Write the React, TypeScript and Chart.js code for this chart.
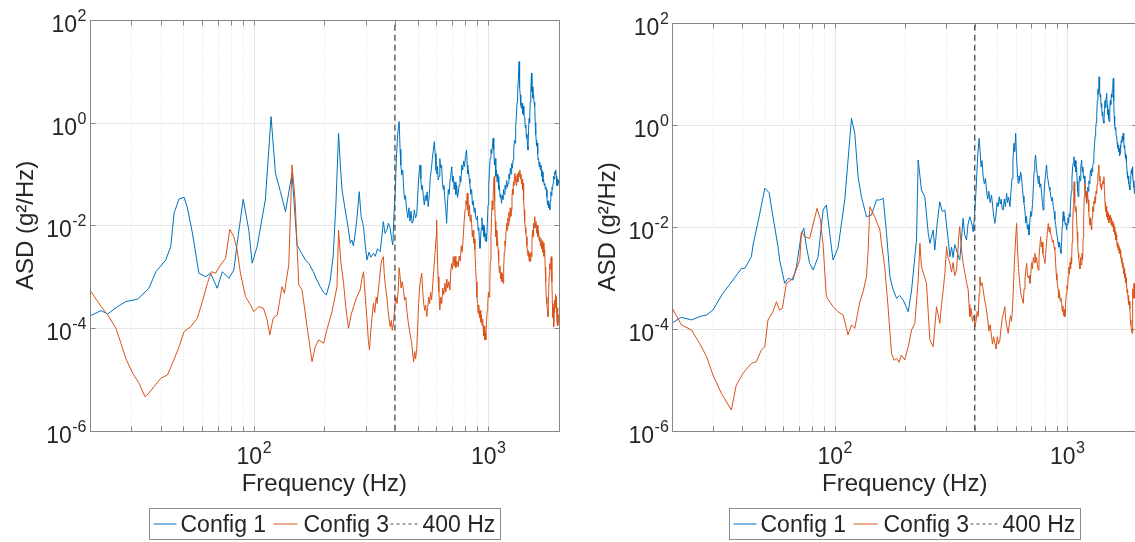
import React, { useEffect, useRef } from 'react';
import Chart from 'chart.js/auto';

// ---------- data: [frequency (Hz), ASD (g^2/Hz)] ----------
const leftConfig1: [number, number][] = [
  [20, 1.72e-4], [22.3, 2.18e-4], [23.8, 1.88e-4], [26.2, 2.61e-4], [28.4, 3.27e-4], [31.9, 3.64e-4], [35.7, 5.96e-4], [38.2, 1.25e-3], [42.1, 2.12e-3], [44.2, 3.85e-3],
  [45.7, 1.74e-2], [48, 3.27e-2], [50.4, 3.52e-2], [52.1, 2.18e-2], [54.7, 7.1e-3], [58.3, 1.17e-3], [62.3, 1.0e-3], [65.4, 1.17e-3], [69.8, 5.96e-4], [73.4, 1.25e-3],
  [78.3, 9.3e-4], [82.2, 1.35e-3], [85.3, 5.2e-3], [90.1, 3.22e-2], [95.2, 8.1e-3], [98.4, 1.83e-3], [103.3, 3.85e-3], [112, 3.13e-2], [118.5, 1.31], [123.7, 0.103],
  [129.9, 4.53e-2], [136.5, 1.85e-2], [145.6, 0.103], [153, 4.15e-3], [159, 3e-3], [166, 2.12e-3], [172, 1.8e-3], [179.5, 1.25e-3], [185, 9e-4], [192, 6.4e-4],
  [198, 5e-4], [204, 4.41e-4], [208, 6e-4], [212, 8.6e-4], [218, 2.45e-3], [224, 2.5e-2], [230, 0.622], [234, 0.15], [238, 4.89e-2], [245.5, 2.0e-2],
  [253.6, 8.1e-3], [258, 4.5e-3], [262, 5.2e-3], [266, 4e-3], [271, 7.1e-3], [276, 1.5e-2], [281.8, 4.53e-2], [287, 1.5e-2], [294, 9.4e-3], [299, 4e-3],
  [304, 2.12e-3], [310, 3e-3], [316, 2.4e-3], [324, 2.86e-3], [330, 2.5e-3], [337, 3.5e-3], [346, 3.08e-3], [352, 6e-3], [357, 1.18e-2], [363, 7e-3],
  [369.6, 8.1e-3], [375, 1.1e-2], [382, 8.8e-3], [387, 5.5e-3], [392, 4.15e-3], [396, 1.5e-2], [401, 4.22e-2], [406, 0.2], [411, 0.6], [417, 1.05],
  [421, 0.3], [424, 0.15], [428, 9.6e-2], [432, 0.12], [436, 5e-2], [440, 3.2e-2], [444, 3.8e-2], [449, 2.0e-2], [454, 1.4e-2], [459, 2.2e-2],
  [464, 1.2e-2], [469, 1.9e-2], [474, 1.1e-2], [479.6, 1.27e-2], [484, 2e-2], [490, 1.4e-2], [495.6, 1.6e-2], [500, 3.5e-2], [504, 0.07], [508, 0.11],
  [512, 0.15], [516, 0.08], [520, 5e-2], [524, 6e-2], [529, 3.62e-2], [534, 2.5e-2], [539, 3.8e-2], [544, 3e-2], [549, 4.5e-2], [555, 2.31e-2],
  [561, 4e-2], [567, 0.09], [573, 0.13], [578, 0.2], [583, 0.28], [589, 0.427], [594, 0.25], [599, 0.12], [604, 0.1], [608, 0.14],
  [612, 7.66e-2], [617, 0.09], [622, 0.2], [627, 0.13], [633, 0.15], [638, 0.07], [643, 5e-2], [648, 6e-2], [654, 3e-2], [659, 2.2e-2],
  [665, 1.1e-2], [670, 2.5e-2], [676, 5e-2], [682, 4e-2], [688, 0.08], [693, 0.1], [699, 0.139], [705, 0.07], [711, 0.09], [716, 5e-2],
  [722, 7e-2], [728, 4e-2], [734, 6e-2], [740, 3.5e-2], [745, 4.22e-2], [752, 6e-2], [758, 0.09], [765, 0.07], [772, 0.15], [779, 0.12],
  [786, 0.18], [793, 0.14], [800, 0.22], [809, 0.294], [814, 0.15], [819, 0.1], [824, 0.12], [830, 8e-2], [836, 6.6e-2], [843, 4e-2],
  [850, 5e-2], [857, 2.5e-2], [864, 3e-2], [871, 1.8e-2], [878, 2.2e-2], [886, 1.4e-2], [893, 1.27e-2], [900, 1.5e-2], [906, 8e-3], [912, 9e-3],
  [918, 5e-3], [923, 3.58e-3], [929, 6e-3], [935, 9e-3], [941, 1.4e-2], [947, 8e-3], [953, 1.02e-2], [959, 6e-3], [965, 9e-3], [971, 5e-3],
  [978, 7e-3], [985, 4.82e-3], [992, 1.1e-2], [999, 2.5e-2], [1006, 6e-2], [1013, 0.12], [1020, 0.2], [1028, 0.3], [1036, 0.25], [1043, 0.35],
  [1050, 0.497], [1057, 0.3], [1064, 0.15], [1071, 0.2], [1078, 0.09], [1085, 0.12], [1092, 0.07], [1098, 0.1], [1103, 8.9e-2], [1110, 5e-2],
  [1117, 6e-2], [1124, 3.5e-2], [1132, 4e-2], [1140, 2.69e-2], [1148, 3.8e-2], [1156, 3.2e-2], [1164, 5e-2], [1172, 4e-2], [1180, 6e-2], [1190, 5e-2],
  [1200, 7.5e-2], [1208, 5.5e-2], [1217, 6.6e-2], [1226, 0.1], [1235, 0.08], [1244, 0.13], [1252, 0.1], [1260, 0.16], [1268, 0.13], [1277, 0.188],
  [1286, 0.3], [1294, 0.45], [1302, 0.4], [1310, 0.8], [1320, 1.31], [1328, 2.5], [1336, 4], [1345, 7], [1355, 15.4], [1362, 5],
  [1370, 3.5], [1378, 2.2], [1387, 1.91], [1395, 2.4], [1403, 1.5], [1411, 2.1], [1420, 1.4], [1432, 1.31], [1440, 0.8], [1448, 0.9],
  [1456, 0.5], [1464, 0.6], [1472, 0.35], [1479, 0.294], [1487, 0.7], [1495, 1.2], [1503, 1.0], [1511, 2.5], [1520, 4], [1530, 9.2],
  [1537, 4], [1545, 5], [1553, 3], [1562, 3.5], [1570, 2.5], [1580, 2.05], [1588, 1.0], [1596, 0.6], [1604, 0.45], [1612, 0.35],
  [1620, 0.4], [1628, 0.25], [1633, 0.188], [1641, 0.2], [1650, 0.14], [1660, 0.17], [1670, 0.12], [1680, 0.15], [1687, 0.12], [1696, 0.09],
  [1705, 0.11], [1714, 0.07], [1724, 0.08], [1735, 0.06], [1745, 0.065], [1755, 0.05], [1765, 0.055], [1773, 4.89e-2], [1782, 3.5e-2], [1792, 2.5e-2],
  [1802, 3e-2], [1812, 2.2e-2], [1822, 2.6e-2], [1832, 2.0e-2], [1842, 3e-2], [1852, 4.5e-2], [1862, 3.8e-2], [1872, 5.5e-2], [1882, 5e-2], [1892, 6.6e-2],
  [1902, 0.09], [1912, 0.08], [1922, 0.11], [1932, 0.1], [1942, 0.12], [1952, 0.09], [1962, 0.06], [1972, 0.08], [1982, 0.06], [1992, 0.075], [2000, 6.6e-2],
];

const leftConfig3: [number, number][] = [
  [20, 5.5e-4], [22.3, 2.61e-4], [23.8, 1.8e-4], [25.8, 9.9e-5], [27.1, 5.06e-5], [28.4, 2.58e-5], [30.4, 1.32e-5], [32.4, 8.4e-6], [34.3, 4.6e-6], [35.7, 5.4e-6],
  [37.5, 7.2e-6], [40.1, 1.05e-5], [42.8, 1.22e-5], [45, 2.06e-5], [48, 4.35e-5], [50.4, 8.5e-5], [53.8, 1.06e-4], [57.4, 1.55e-4], [60.3, 3.27e-4], [63.4, 7.45e-4],
  [65.9, 1.25e-3], [68.7, 1.17e-3], [72.1, 1.69e-3], [75.8, 2.29e-3], [79, 8.4e-3], [82.2, 6.0e-3], [84.9, 3.32e-3], [87.7, 1.17e-3], [92.2, 4.08e-4], [96.8, 2.82e-4],
  [100, 2.08e-4], [105, 2.61e-4], [110, 2.43e-4], [114, 1.44e-4], [117, 7.35e-5], [121, 1.55e-4], [126, 1.8e-4], [132, 6.4e-4], [135, 4.77e-4], [141, 1.69e-3],
  [145.6, 0.150], [150, 3.13e-2], [155.6, 6.9e-4], [160.7, 5.5e-4], [168.8, 1.06e-4], [177.2, 2.22e-5], [183, 4.35e-5], [189, 5.86e-5], [198.7, 5.06e-5], [205, 9.2e-5],
  [215.6, 2.08e-4], [226.5, 6.4e-4], [230, 8.1e-3], [235, 2e-3], [241.6, 7.45e-4], [247, 2.5e-4], [253.6, 9.9e-5], [260, 1.8e-4], [266.6, 2.61e-4], [275, 4e-4],
  [284.4, 5.5e-4], [289, 9e-4], [294, 1.25e-3], [299, 4e-4], [304, 1.5e-4], [308, 6e-5], [311.6, 3.75e-5], [315, 8e-5], [319, 1.5e-4], [324, 3.04e-4],
  [328, 2e-4], [333, 4e-4], [336, 3e-4], [340, 5.5e-4], [344, 9e-4], [348, 1.6e-3], [351.8, 2.12e-3], [357, 2.45e-3], [360, 1.2e-3], [364, 7e-4],
  [369.6, 4.08e-4], [373, 2.5e-4], [377, 1.6e-4], [382, 1.06e-4], [386, 1.4e-4], [390, 9e-5], [394.5, 1.24e-4], [399, 2.5e-4], [404, 4e-4], [409, 3e-4],
  [414, 6.4e-4], [417, 1.5e-3], [421, 1.0e-3], [425, 6e-4], [430, 8e-4], [435, 5.5e-4], [440, 3.5e-4], [445, 4e-4], [449.6, 2.25e-4], [455, 1.4e-4],
  [460, 1.0e-4], [466, 7e-5], [472, 5.06e-5], [477, 3e-5], [481, 2.2e-5], [486, 3.5e-5], [490, 2.5e-5], [495.6, 3.75e-5], [500, 1e-4], [505, 3e-4],
  [510, 6e-4], [515, 9e-4], [521, 1.17e-3], [526, 5e-4], [531, 3e-4], [536, 2.2e-4], [541, 2.8e-4], [547, 1.67e-4], [552, 2.5e-4], [558, 4e-4],
  [563, 3e-4], [568, 5e-4], [574, 3.52e-4], [580, 7e-4], [587, 1.5e-3], [594, 3e-3], [600, 6e-3], [603, 1.27e-2], [607, 3e-3], [611, 1e-3],
  [616, 5e-4], [622, 2.25e-4], [628, 4e-4], [634, 3e-4], [640, 6e-4], [647, 4.5e-4], [654, 7.45e-4], [660, 5e-4], [666, 9e-4], [672, 6e-4],
  [680, 8e-4], [687, 5.5e-4], [692, 1.2e-3], [698, 1.8e-3], [704, 1.4e-3], [710, 2.45e-3], [716, 1.6e-3], [722, 2.5e-3], [728, 1.5e-3], [736, 2e-3],
  [745, 1.57e-3], [752, 2.5e-3], [760, 2e-3], [768, 4e-3], [775, 3e-3], [783, 6e-3], [790, 1.2e-2], [797, 2e-2], [804, 3e-2], [809, 2.5e-2],
  [814, 4.22e-2], [820, 2e-2], [826, 1.5e-2], [832, 2.5e-2], [838, 1.2e-2], [844, 1.6e-2], [850, 1.1e-2], [856, 6e-3], [862, 8e-3], [868, 4.5e-3],
  [873, 5.5e-3], [878, 3.32e-3], [884, 1.5e-3], [890, 8e-4], [896, 4e-4], [901, 3e-4], [906, 1.94e-4], [912, 2.8e-4], [918, 1.6e-4], [924, 2.2e-4],
  [930, 1.3e-4], [936, 1.8e-4], [942, 1.1e-4], [947, 1.5e-4], [952, 1.06e-4], [957, 7e-5], [962, 1.1e-4], [967, 6e-5], [972, 8e-5], [977, 5.86e-5],
  [983, 1.2e-4], [990, 2.2e-4], [996, 3e-4], [1003, 5e-4], [1009, 4e-4], [1016, 7.45e-4], [1022, 2e-3], [1028, 6e-3], [1034, 1.5e-2], [1040, 3e-2],
  [1046, 2e-2], [1053, 5e-2], [1061, 8.9e-2], [1066, 3e-2], [1072, 1.2e-2], [1078, 6e-3], [1084, 8e-3], [1090, 4e-3], [1096, 5.5e-3], [1103, 3.32e-3],
  [1109, 2e-3], [1116, 1.2e-3], [1123, 1.6e-3], [1130, 9e-4], [1137, 1.2e-3], [1144, 8e-4], [1151, 1.1e-3], [1159, 7.45e-4], [1165, 1.5e-3], [1172, 3e-3],
  [1179, 5e-3], [1186, 4e-3], [1192, 8e-3], [1198, 1.1e-2], [1205, 8e-3], [1212, 1.4e-2], [1219, 1e-2], [1226, 1.8e-2], [1234, 1.2e-2], [1242, 2.2e-2],
  [1250, 1.5e-2], [1258, 2e-2], [1264, 3.5e-2], [1270, 5e-2], [1276, 4e-2], [1282, 7e-2], [1288, 6e-2], [1294, 9e-2], [1300, 0.103], [1306, 0.07],
  [1312, 0.09], [1318, 0.06], [1325, 0.08], [1332, 0.1], [1340, 0.07], [1348, 0.11], [1356, 0.09], [1365, 0.12], [1372, 0.08], [1380, 0.1],
  [1388, 0.065], [1396, 0.08], [1403, 0.05], [1410, 6.6e-2], [1417, 3e-2], [1424, 2e-2], [1432, 1.2e-2], [1440, 9e-3], [1448, 7e-3], [1456, 6e-3],
  [1464, 4e-3], [1472, 3e-3], [1480, 2.5e-3], [1488, 3.2e-3], [1496, 2e-3], [1504, 2.8e-3], [1512, 2e-3], [1521, 3e-3], [1530, 2.45e-3], [1538, 5e-3],
  [1546, 8e-3], [1554, 6e-3], [1562, 1.1e-2], [1571, 9e-3], [1580, 1.48e-2], [1590, 9e-3], [1600, 1.2e-2], [1610, 7e-3], [1620, 1e-2], [1630, 6e-3],
  [1640, 8e-3], [1650, 5e-3], [1660, 6e-3], [1670, 4e-3], [1680, 5.5e-3], [1690, 3.5e-3], [1700, 5e-3], [1710, 3e-3], [1720, 4.5e-3], [1730, 2.5e-3],
  [1743, 3.32e-3], [1752, 1.5e-3], [1760, 8e-4], [1770, 4e-4], [1780, 3e-4], [1790, 2.2e-4], [1800, 1.67e-4], [1810, 4e-4], [1820, 1e-3], [1830, 1.8e-3],
  [1840, 1.4e-3], [1850, 2.2e-3], [1862, 2.45e-3], [1870, 8e-4], [1880, 3e-4], [1890, 1.6e-4], [1897, 2.5e-4], [1904, 1.06e-4], [1912, 2e-4], [1920, 3.5e-4],
  [1930, 2.5e-4], [1940, 4.5e-4], [1948, 3e-4], [1954, 4.08e-4], [1962, 2e-4], [1970, 1.2e-4], [1978, 2.5e-4], [1986, 1.1e-4], [1994, 1.8e-4], [2000, 1.24e-4],
];

const rightConfig1: [number, number][] = [
  [20, 1.31e-4], [21.9, 1.68e-4], [24.2, 1.49e-4], [26.7, 1.78e-4], [28.1, 1.86e-4], [29.9, 2.33e-4], [33, 4.97e-4], [36.5, 9.06e-4], [39.7, 1.53e-3], [41, 1.53e-3],
  [43.8, 2.6e-3], [44.5, 4.4e-3], [47.6, 1.85e-2], [50, 5.7e-2], [52.2, 4.68e-2], [54.2, 1.58e-2], [57, 4.07e-3], [57.9, 2.23e-3], [60.9, 7.8e-4], [63, 9.8e-4],
  [66.1, 9.06e-4], [68.4, 1.65e-3], [71.9, 7.46e-3], [73.6, 9.4e-3], [75.5, 4.07e-3], [78, 1.92e-3], [80.7, 1.42e-3], [84.8, 2.6e-3], [89.1, 2.14e-2], [92, 2.69e-2],
  [95.1, 7.46e-3], [98.3, 2.23e-3], [103.3, 3.85e-3], [110.4, 3.37e-2], [118, 1.35], [121.9, 0.685], [126, 9.6e-2], [130.2, 3.9e-2], [136.9, 1.58e-2], [143.8, 1.7e-2],
  [151.2, 3.37e-2], [156.3, 3.37e-2], [161.6, 3.63e-2], [167, 7.46e-3], [172.7, 1.05e-3], [178, 6e-4], [184.5, 3.96e-4], [190, 4.5e-4], [196.9, 3.66e-4], [202, 2.8e-4],
  [207, 2.16e-4], [214, 5.77e-4], [224.7, 5.52e-3], [228.5, 0.205], [236, 5.28e-2], [244, 3.9e-2], [252.4, 7.46e-3], [256.6, 4.75e-3], [265, 8.67e-3], [269.3, 3.51e-3],
  [276, 1.2e-2], [283, 3.11e-2], [290, 2e-2], [297.6, 2.14e-2], [307.6, 5.52e-3], [312.8, 2.6e-3], [318, 4e-3], [323, 2.5e-3], [328, 4.5e-3], [334, 3.51e-3],
  [339, 2.8e-3], [345, 2.23e-3], [350, 5e-3], [356.6, 1.47e-2], [362, 7e-3], [368.8, 5.52e-3], [374, 1.1e-2], [381, 1.58e-2], [388, 1.2e-2], [394, 8.0e-3],
  [399, 1.6e-2], [404.6, 4.55e-2], [408, 0.1], [412, 0.25], [418, 0.546], [422, 0.3], [426, 0.15], [430, 0.2], [435, 9.6e-2], [440, 0.07],
  [445, 0.09], [449.6, 5.28e-2], [455, 3.5e-2], [460, 5e-2], [466, 3e-2], [472.6, 4.22e-2], [478, 2.5e-2], [483, 1.6e-2], [488.5, 1.17e-2], [494, 1.8e-2],
  [499, 3e-2], [504, 2.5e-2], [510, 3.9e-2], [515, 2.8e-2], [520, 3.5e-2], [525, 2.2e-2], [530.6, 2.14e-2], [536, 3.5e-2], [542, 2.5e-2], [548.6, 4.55e-2],
  [554, 3e-2], [560, 3.8e-2], [567, 2.48e-2], [573, 5e-2], [579, 0.09], [584, 0.2], [590, 0.436], [595, 0.3], [600, 0.685], [605, 0.25],
  [610, 0.12], [615.5, 7.15e-2], [620, 0.1], [625, 0.08], [630, 0.12], [636, 9.6e-2], [641, 6e-2], [646, 4e-2], [651, 3e-2], [657.6, 2.14e-2],
  [663, 1.2e-2], [668, 1.6e-2], [674, 9e-3], [679, 1.1e-2], [684, 6.9e-3], [690, 1.2e-2], [696, 2e-2], [702, 1.6e-2], [709.6, 2.9e-2], [715, 6e-2],
  [720, 0.12], [725, 0.18], [731, 0.257], [737, 0.15], [743, 0.11], [750, 7.15e-2], [756, 0.1], [762, 0.06], [769, 0.07], [776, 4.55e-2],
  [782, 3e-2], [788, 2.14e-2], [794, 4e-2], [800, 7e-2], [807, 0.11], [815, 0.164], [821, 0.1], [828, 0.08], [835, 0.06], [843, 5.28e-2],
  [850, 4e-2], [857, 3.2e-2], [864, 3.8e-2], [871, 2.48e-2], [878, 2e-2], [885, 1.4e-2], [892, 1.1e-2], [899, 8e-3], [906, 6.4e-3], [913, 5e-3],
  [920, 4e-3], [927, 5e-3], [934, 3.5e-3], [940, 3.03e-3], [946, 5e-3], [951, 1e-2], [956, 1.4e-2], [961, 1.98e-2], [967, 1.3e-2], [973, 1.6e-2],
  [980, 1.1e-2], [987, 1.2e-2], [994, 8.67e-3], [1000, 1.1e-2], [1007, 1.5e-2], [1014, 1.2e-2], [1020, 1.8e-2], [1027, 1.58e-2], [1034, 3e-2], [1041, 5e-2],
  [1048, 0.09], [1055, 0.15], [1062, 0.18], [1069, 0.238], [1076, 0.15], [1083, 0.2], [1090, 0.12], [1097, 0.151], [1103, 0.08], [1109, 0.05],
  [1115, 3.9e-2], [1122, 6e-2], [1129, 0.1], [1136, 0.08], [1144, 0.15], [1153, 0.205], [1160, 0.12], [1168, 0.15], [1175, 0.09], [1183, 0.1],
  [1191, 7.15e-2], [1198, 5e-2], [1205, 4e-2], [1211, 2.9e-2], [1218, 4e-2], [1225, 6e-2], [1232, 5e-2], [1239, 8e-2], [1246, 7e-2], [1253, 9.6e-2],
  [1260, 0.13], [1267, 0.1], [1274, 0.14], [1281, 0.12], [1287, 0.16], [1294, 0.177], [1302, 0.25], [1310, 0.4], [1318, 0.6], [1325, 0.8],
  [1332, 1.1], [1339, 1.45], [1347, 3], [1355, 5], [1363, 4], [1371, 8.8], [1378, 5], [1385, 3.5], [1392, 4], [1399, 2.2],
  [1406, 2.65], [1413, 1.5], [1420, 1.8], [1428, 1.2], [1438, 1.08], [1446, 2], [1454, 3], [1462, 2.2], [1470, 3.5], [1478, 4.17],
  [1485, 2.5], [1492, 1.6], [1500, 2], [1508, 1.3], [1516, 1.16], [1524, 2], [1532, 3], [1540, 2.5], [1548, 4], [1556, 3.5],
  [1564, 5], [1571, 6], [1578, 8.2], [1585, 3], [1592, 1.5], [1600, 1], [1608, 0.8], [1616, 0.9], [1624, 0.6], [1632, 0.587],
  [1640, 0.45], [1648, 0.35], [1656, 0.4], [1664, 0.3], [1672, 0.35], [1680, 0.25], [1687, 0.277], [1694, 0.4], [1701, 0.35], [1708, 0.5],
  [1716, 0.45], [1724, 0.6], [1733, 0.5], [1742, 0.685], [1750, 0.5], [1758, 0.35], [1766, 0.4], [1774, 0.28], [1782, 0.22], [1790, 0.25],
  [1796, 0.2], [1802, 0.177], [1810, 0.12], [1818, 0.09], [1826, 0.1], [1834, 0.07], [1842, 0.08], [1850, 0.06], [1856, 0.065], [1862, 5.28e-2],
  [1870, 0.08], [1878, 0.1], [1886, 0.13], [1894, 0.11], [1901, 0.14], [1908, 0.151], [1915, 0.1], [1922, 0.08], [1929, 0.06], [1937, 0.07],
  [1946, 4.55e-2], [1955, 0.06], [1964, 0.08], [1973, 0.07], [1982, 0.1], [1991, 0.085], [2000, 0.1],
];

const rightConfig3: [number, number][] = [
  [20, 2.52e-4], [21.9, 1.19e-4], [24.2, 9.46e-5], [26.2, 5.19e-5], [28.1, 2.83e-5], [29.9, 1.24e-5], [32.5, 5.42e-6], [35.9, 2.55e-6], [37.7, 7.87e-6], [40.3, 1.34e-5],
  [43.8, 2.1e-5], [46, 2.26e-5], [48.3, 3.83e-5], [50, 4.45e-5], [51.6, 1.49e-4], [54.2, 2.16e-4], [56.1, 3.4e-4], [57.9, 2.33e-4], [59.5, 2.52e-4], [61.9, 7.8e-4],
  [65.1, 9.06e-4], [67.3, 1.22e-3], [70.7, 2.23e-3], [71.9, 8.0e-3], [74.3, 6.4e-3], [78, 5.96e-3], [83.9, 2.31e-2], [86.8, 1.36e-2], [89.1, 4.4e-3], [92, 4.26e-4],
  [98.3, 2.71e-4], [103.3, 2.16e-4], [108.6, 1.86e-4], [112.3, 1.02e-4], [114, 7.55e-5], [118, 1.19e-4], [121.9, 1.02e-4], [128.2, 3.4e-4], [132.4, 5.33e-4], [136.9, 1.05e-3],
  [139, 3.03e-3], [141.5, 2.48e-2], [148.6, 1.58e-2], [156.3, 8.67e-3], [158.8, 4.75e-3], [164, 1.65e-3], [169.5, 2.71e-4], [175.4, 3.3e-5], [180, 2.4e-5], [184.5, 2.63e-5],
  [189, 2.2e-5], [193.6, 3.05e-5], [200, 2.44e-5], [207, 4.45e-5], [214, 9.46e-5], [221, 1.28e-4], [228.5, 9.06e-4], [232.4, 4.75e-3], [236, 1.65e-3], [248, 7.8e-4],
  [256.6, 6.0e-5], [265, 4.45e-5], [274, 2.71e-4], [283, 1.28e-4], [288, 3e-4], [293, 6e-4], [297.6, 1.22e-3], [302.6, 4.07e-3], [307, 2.5e-3], [312.8, 1.92e-3],
  [318, 1.3e-3], [323, 2e-3], [328, 1.1e-3], [334, 1.42e-3], [338, 3e-3], [341, 6e-3], [345, 1.01e-2], [350, 4e-3], [356, 2e-3], [363, 1.22e-3],
  [369, 8e-4], [375, 5.77e-4], [378, 3e-4], [381, 1.73e-4], [386, 2.5e-4], [391, 1.4e-4], [396, 1.8e-4], [401, 1.1e-4], [406, 1.5e-4], [410, 2.2e-4],
  [414, 1.73e-4], [418, 5e-4], [421, 1.05e-3], [425, 7e-4], [430, 8e-4], [435, 5.77e-4], [440, 4e-4], [445, 3e-4], [449.6, 2.33e-4], [455, 1.5e-4],
  [460, 9e-5], [466, 1.2e-4], [472.6, 6.98e-5], [477, 5e-5], [482, 7e-5], [488.5, 5.19e-5], [494, 4e-5], [500, 7e-5], [506, 5e-5], [513, 6e-5],
  [519, 1e-4], [525, 1.6e-4], [532, 2e-4], [538.6, 2.71e-4], [544, 1.5e-4], [550, 1.1e-4], [557, 8.15e-5], [563, 1.2e-4], [570, 1.8e-4], [576, 1.4e-4],
  [582, 2.71e-4], [588, 8e-4], [594, 2.5e-3], [600, 6e-3], [606, 1.17e-2], [611, 4e-3], [617, 1.5e-3], [625, 7.8e-4], [631, 5e-4], [638, 4e-4],
  [647, 3.16e-4], [652, 6e-4], [658, 9e-4], [663, 1.4e-3], [669, 1.92e-3], [674, 1.2e-3], [680, 1e-3], [686, 1.1e-3], [691, 7.8e-4], [697, 1.2e-3],
  [703, 2e-3], [709, 1.5e-3], [715, 2.5e-3], [720, 2e-3], [726, 3.03e-3], [732, 2e-3], [738, 2.5e-3], [744, 1.8e-3], [750, 1.42e-3], [756, 2.5e-3],
  [762, 4e-3], [768, 6.4e-3], [774, 4e-3], [780, 5e-3], [786, 3e-3], [793, 2.5e-3], [802, 1.92e-3], [808, 3e-3], [815, 5e-3], [822, 8e-3],
  [829, 1.17e-2], [835, 8e-3], [842, 1e-2], [849, 7e-3], [857, 6.4e-3], [864, 5e-3], [871, 5.5e-3], [878, 4e-3], [885, 3.51e-3], [891, 2e-3],
  [897, 1.2e-3], [903, 9e-4], [909, 7e-4], [915, 5.77e-4], [921, 4e-4], [927, 5e-4], [933, 3.5e-4], [939, 4e-4], [946, 3.16e-4], [952, 2.2e-4],
  [958, 2.8e-4], [965, 1.8e-4], [971, 2.4e-4], [978, 1.73e-4], [984, 3e-4], [991, 5e-4], [997, 7e-4], [1003, 6e-4], [1010, 1.05e-3], [1016, 1.6e-3],
  [1022, 1.2e-3], [1028, 2e-3], [1034, 1.5e-3], [1040, 2.5e-3], [1044, 1.92e-3], [1050, 5e-3], [1056, 1.2e-2], [1062, 2.5e-2], [1067, 5e-2], [1072, 7.7e-2],
  [1077, 3e-2], [1083, 2e-2], [1090, 2.5e-2], [1097, 1.58e-2], [1103, 8e-3], [1109, 5e-3], [1115, 3e-3], [1121, 2.5e-3], [1127, 1.92e-3], [1134, 1.5e-3],
  [1141, 2.5e-3], [1148, 1.8e-3], [1156, 3e-3], [1165, 2.23e-3], [1171, 6e-3], [1177, 1.5e-2], [1184, 4e-2], [1191, 7.15e-2], [1198, 4e-2], [1205, 5e-2],
  [1212, 3e-2], [1220, 4.5e-2], [1231, 3.37e-2], [1238, 2e-2], [1245, 1.4e-2], [1252, 1.1e-2], [1260, 1.5e-2], [1266, 1e-2], [1273, 8.67e-3], [1280, 1.5e-2],
  [1287, 2.5e-2], [1294, 2e-2], [1301, 3.2e-2], [1308, 2.8e-2], [1315, 3.9e-2], [1322, 3e-2], [1330, 5e-2], [1338, 4.5e-2], [1346, 7e-2], [1354, 0.1],
  [1361, 0.12], [1368, 0.164], [1375, 0.08], [1382, 0.1], [1389, 0.06], [1397, 0.07], [1406, 5.28e-2], [1413, 0.07], [1420, 0.08], [1429, 0.07],
  [1438, 9.6e-2], [1446, 0.05], [1454, 0.03], [1462, 0.02], [1470, 0.025], [1478, 1.58e-2], [1486, 2e-2], [1494, 1.4e-2], [1502, 1.8e-2], [1510, 1.2e-2],
  [1518, 1.6e-2], [1527, 1.36e-2], [1535, 1.7e-2], [1543, 1.1e-2], [1551, 1.5e-2], [1560, 1e-2], [1569, 1.3e-2], [1578, 1.17e-2], [1586, 8e-3], [1594, 1e-2],
  [1602, 7e-3], [1610, 8e-3], [1618, 5.5e-3], [1625, 7e-3], [1632, 5.52e-3], [1640, 4e-3], [1648, 5e-3], [1656, 3.5e-3], [1664, 4.5e-3], [1672, 3e-3],
  [1680, 4e-3], [1687, 3.51e-3], [1695, 2.5e-3], [1703, 3e-3], [1711, 2e-3], [1719, 2.5e-3], [1727, 1.6e-3], [1735, 2e-3], [1742, 1.65e-3], [1750, 1.2e-3],
  [1758, 1.5e-3], [1766, 1e-3], [1774, 1.2e-3], [1782, 8e-4], [1790, 1e-3], [1796, 7e-4], [1802, 7.8e-4], [1810, 5e-4], [1818, 6e-4], [1826, 4e-4],
  [1834, 4.5e-4], [1842, 3e-4], [1850, 3.5e-4], [1856, 2.5e-4], [1862, 2.71e-4], [1870, 1.5e-4], [1878, 1.2e-4], [1886, 1e-4], [1893, 9e-5], [1900, 8.15e-5],
  [1908, 3e-4], [1916, 6e-4], [1924, 4e-4], [1932, 7e-4], [1940, 7.8e-4], [1950, 4e-4], [1960, 5e-4], [1970, 3e-4], [1980, 4e-4], [1990, 2.5e-4], [2000, 3e-4],
];

const refLineFreq = 400;
const xRange = [20, 2000];
const yRange = [1e-6, 1e2];
const xMajorTicks = [100, 1000];
const xMajorLabels = ['2', '3'];
const xMinorTicks = [20, 30, 40, 50, 60, 70, 80, 90, 200, 300, 400, 500, 600, 700, 800, 900, 2000];
const yTicks = [1e-6, 1e-4, 1e-2, 1e0, 1e2];
const yTickLabels = ['-6', '-4', '-2', '0', '2'];
const seriesNames = ['Config 1', 'Config 3', '400 Hz'];
const xTitle = 'Frequency (Hz)';
const yTitle = 'ASD (g\u00B2/Hz)';

const FONT = '"Liberation Sans", Arial, Helvetica, sans-serif';
const TEXT = '#262626';
const BLUE = '#0072BD';
const ORANGE = '#D95319';
const DASH = '#4d4d4d';

function drawPow(ctx: CanvasRenderingContext2D, exp: string, x: number, baseBaseline: number, align: 'right' | 'center') {
  ctx.font = `23px ${FONT}`;
  const wb = ctx.measureText('10').width;
  ctx.font = `16px ${FONT}`;
  const we = ctx.measureText(exp).width;
  const total = wb + we;
  const x0 = align === 'right' ? x - total : x - total / 2;
  ctx.textAlign = 'left';
  ctx.textBaseline = 'alphabetic';
  ctx.fillStyle = TEXT;
  ctx.font = `23px ${FONT}`;
  ctx.fillText('10', x0, baseBaseline);
  ctx.font = `16px ${FONT}`;
  ctx.fillText(exp, x0 + wb + 0.5, baseBaseline - 11);
}

const matlabAxes = {
  id: 'matlabAxes',
  beforeDatasetsDraw(chart: any) {
    const { ctx, chartArea, scales } = chart;
    const { left, right, top, bottom } = chartArea;
    const xs = scales.x;
    const ys = scales.y;
    ctx.save();
    ctx.lineWidth = 1;
    ctx.strokeStyle = '#e0e0e0';
    ctx.setLineDash([1, 2]);
    for (const f of xMinorTicks) {
      const px = Math.round(xs.getPixelForValue(f)) + 0.5;
      ctx.beginPath();
      ctx.moveTo(px, top);
      ctx.lineTo(px, bottom);
      ctx.stroke();
    }
    ctx.setLineDash([]);
    ctx.strokeStyle = '#e6e6e6';
    for (const f of xMajorTicks) {
      const px = Math.round(xs.getPixelForValue(f)) + 0.5;
      ctx.beginPath();
      ctx.moveTo(px, top);
      ctx.lineTo(px, bottom);
      ctx.stroke();
    }
    for (const v of yTicks) {
      const py = Math.round(ys.getPixelForValue(v)) + 0.5;
      ctx.beginPath();
      ctx.moveTo(left, py);
      ctx.lineTo(right, py);
      ctx.stroke();
    }
    ctx.restore();
  },
  afterDatasetsDraw(chart: any) {
    const { ctx, chartArea, scales } = chart;
    const { left, right, top, bottom } = chartArea;
    const xs = scales.x;
    const ys = scales.y;
    const L = Math.round(left) + 0.5;
    const R = Math.round(right) + 0.5;
    const T = Math.round(top) + 0.5;
    const B = Math.round(bottom) + 0.5;
    ctx.save();
    ctx.strokeStyle = '#868686';
    ctx.lineWidth = 1;
    ctx.setLineDash([]);
    ctx.beginPath();
    ctx.moveTo(L, T);
    ctx.lineTo(R, T);
    ctx.lineTo(R, B);
    ctx.lineTo(L, B);
    ctx.closePath();
    ctx.stroke();
    const tl = 5;
    for (const f of [...xMinorTicks, ...xMajorTicks]) {
      const px = Math.round(xs.getPixelForValue(f)) + 0.5;
      ctx.beginPath();
      ctx.moveTo(px, B);
      ctx.lineTo(px, B - tl);
      ctx.moveTo(px, T);
      ctx.lineTo(px, T + tl);
      ctx.stroke();
    }
    for (const v of yTicks) {
      const py = Math.round(ys.getPixelForValue(v)) + 0.5;
      ctx.beginPath();
      ctx.moveTo(L, py);
      ctx.lineTo(L + tl, py);
      ctx.moveTo(R, py);
      ctx.lineTo(R - tl, py);
      ctx.stroke();
    }
    yTicks.forEach((v, i) => {
      const py = ys.getPixelForValue(v);
      drawPow(ctx, yTickLabels[i], left - 4, py + 12, 'right');
    });
    xMajorTicks.forEach((f, i) => {
      const px = xs.getPixelForValue(f);
      drawPow(ctx, xMajorLabels[i], px, 464, 'center');
    });
    ctx.fillStyle = TEXT;
    ctx.font = `24px ${FONT}`;
    ctx.textAlign = 'center';
    ctx.textBaseline = 'alphabetic';
    const cx = (left + right) / 2;
    ctx.fillText(xTitle, cx, 491);
    ctx.save();
    ctx.translate(left - 57, (top + bottom) / 2);
    ctx.rotate(-Math.PI / 2);
    ctx.fillText(yTitle, 0, 0);
    ctx.restore();
    // legend
    const bw = 351;
    const bh = 31;
    const bx = Math.round(cx - bw / 2) + 0.5;
    const by = 508.5;
    ctx.fillStyle = '#ffffff';
    ctx.fillRect(bx, by, bw, bh);
    ctx.strokeStyle = '#8c8c8c';
    ctx.strokeRect(bx, by, bw, bh);
    const ly = by + 15.5;
    const items = [
      { c: BLUE, dash: [] as number[], l0: 4, l1: 27, t: 31 },
      { c: ORANGE, dash: [] as number[], l0: 124, l1: 148, t: 154 },
      { c: DASH, dash: [3, 3], l0: 241, l1: 271, t: 273 },
    ];
    items.forEach((it, i) => {
      ctx.strokeStyle = it.c;
      ctx.lineWidth = 1;
      ctx.setLineDash(it.dash);
      ctx.beginPath();
      ctx.moveTo(bx + it.l0, ly);
      ctx.lineTo(bx + it.l1, ly);
      ctx.stroke();
      ctx.setLineDash([]);
      ctx.fillStyle = TEXT;
      ctx.font = `23px ${FONT}`;
      ctx.textAlign = 'left';
      ctx.fillText(seriesNames[i], bx + it.t, by + 23.5);
    });
    ctx.restore();
  },
};

type PanelProps = {
  canvasLeft: number;
  canvasWidth: number;
  area: { left: number; top: number; right: number; bottom: number };
  c1: [number, number][];
  c3: [number, number][];
};

function AsdPanel({ canvasLeft, canvasWidth, area, c1, c3 }: PanelProps) {
  const ref = useRef<HTMLCanvasElement | null>(null);
  useEffect(() => {
    if (!ref.current) return;
    const height = 542;
    const chart = new Chart(ref.current, {
      type: 'line',
      data: {
        datasets: [
          {
            label: seriesNames[0],
            data: c1.map(([f, v]) => ({ x: f, y: v })),
            borderColor: BLUE,
            borderWidth: 1,
            pointRadius: 0,
            tension: 0,
            order: 2,
          },
          {
            label: seriesNames[1],
            data: c3.map(([f, v]) => ({ x: f, y: v })),
            borderColor: ORANGE,
            borderWidth: 1,
            pointRadius: 0,
            tension: 0,
            order: 1,
          },
          {
            label: seriesNames[2],
            data: [
              { x: refLineFreq, y: yRange[0] },
              { x: refLineFreq, y: yRange[1] },
            ],
            borderColor: DASH,
            borderWidth: 1.3,
            borderDash: [6, 4],
            pointRadius: 0,
            order: 0,
          },
        ],
      },
      options: {
        animation: false,
        responsive: false,
        devicePixelRatio: 1,
        layout: {
          padding: {
            left: area.left,
            top: area.top,
            right: canvasWidth - area.right,
            bottom: height - area.bottom,
          },
        },
        plugins: { legend: { display: false }, tooltip: { enabled: false } },
        scales: {
          x: { type: 'logarithmic', min: xRange[0], max: xRange[1], display: false },
          y: { type: 'logarithmic', min: yRange[0], max: yRange[1], display: false },
        },
      },
      plugins: [matlabAxes],
    });
    return () => chart.destroy();
  }, []);
  return (
    <canvas
      ref={ref}
      width={canvasWidth}
      height={542}
      style={{ position: 'absolute', left: canvasLeft, top: 0, width: canvasWidth, height: 542 }}
    />
  );
}

export default function App() {
  return (
    <div
      style={{
        position: 'absolute',
        left: 0,
        top: 0,
        width: 1135,
        height: 542,
        overflow: 'hidden',
        background: '#ffffff',
      }}
    >
      <AsdPanel
        canvasLeft={0}
        canvasWidth={570}
        area={{ left: 90, top: 20, right: 558.7, bottom: 430.7 }}
        c1={leftConfig1}
        c3={leftConfig3}
      />
      <AsdPanel
        canvasLeft={570}
        canvasWidth={575}
        area={{ left: 102.3, top: 23, right: 567.2, bottom: 430.7 }}
        c1={rightConfig1}
        c3={rightConfig3}
      />
    </div>
  );
}
